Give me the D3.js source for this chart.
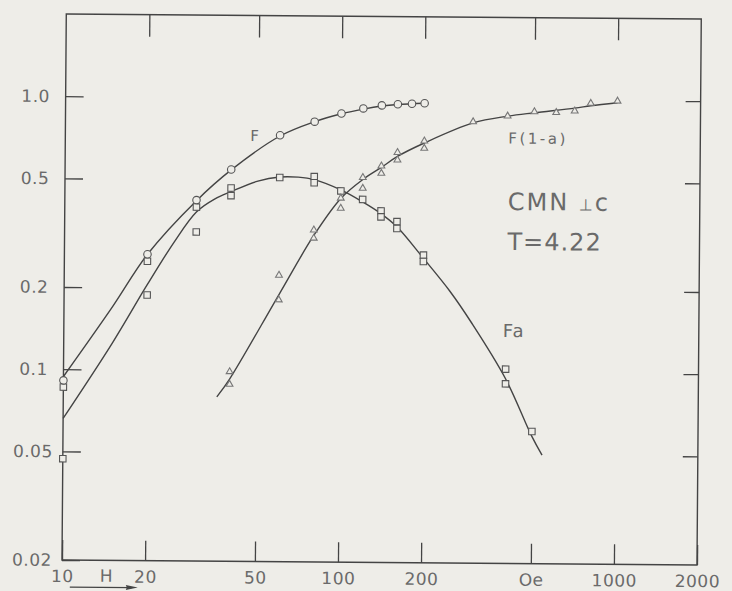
<!DOCTYPE html>
<html>
<head>
<meta charset="utf-8">
<script src="https://cdn.jsdelivr.net/npm/d3@7"></script>
<style>
  html, body { margin: 0; padding: 0; background: #eeede8; }
  svg { display: block; }
</style>
</head>
<body>
<svg id="chart" width="732" height="591"></svg>
<script>
// Measured points: field H (Oe) and the three quantities
const fField   = [10, 20, 30, 40, 60, 80, 100, 120, 140, 160, 180, 200];
const fValues  = [0.091, 0.265, 0.42, 0.545, 0.73, 0.82, 0.88, 0.92, 0.945, 0.955, 0.96, 0.965];

const faField  = [10, 10, 20, 20, 30, 30, 40, 40, 60, 80, 80, 100, 120, 140, 140, 160, 160, 200, 200, 400, 400, 500];
const faValues = [0.086, 0.047, 0.25, 0.188, 0.396, 0.321, 0.466, 0.437, 0.511, 0.516, 0.49, 0.458, 0.427, 0.388, 0.369, 0.355, 0.335, 0.268, 0.254, 0.103, 0.091, 0.061];

const f1aField  = [40, 40, 60, 60, 80, 80, 100, 100, 120, 120, 140, 140, 160, 160, 200, 200, 300, 400, 500, 600, 700, 800, 1000];
const f1aValues = [0.099, 0.089, 0.224, 0.182, 0.329, 0.307, 0.431, 0.396, 0.514, 0.469, 0.567, 0.533, 0.636, 0.597, 0.702, 0.66, 0.828, 0.871, 0.905, 0.90, 0.913, 0.975, 0.995];

// Smooth curves drawn through the points
const fCurveField   = [10, 15, 20, 30, 40, 60, 80, 100, 120, 140, 160, 200];
const fCurveValues  = [0.094, 0.17, 0.265, 0.418, 0.543, 0.725, 0.82, 0.878, 0.915, 0.94, 0.953, 0.965];

const faCurveField  = [10, 15, 20, 25, 30, 35, 40, 50, 60, 70, 80, 100, 120, 140, 160, 200, 250, 300, 400, 500, 545];
const faCurveValues = [0.066, 0.125, 0.205, 0.295, 0.38, 0.425, 0.452, 0.495, 0.513, 0.513, 0.503, 0.462, 0.418, 0.379, 0.34, 0.261, 0.198, 0.152, 0.095, 0.0585, 0.050];

const f1aCurveField  = [36, 40, 60, 80, 100, 120, 140, 160, 200, 300, 400, 500, 700, 800, 1000];
const f1aCurveValues = [0.080, 0.093, 0.19, 0.314, 0.43, 0.505, 0.56, 0.615, 0.69, 0.82, 0.87, 0.897, 0.935, 0.955, 0.982];

// Axis ticks
const xTicks      = [10, 20, 50, 100, 200, 500, 1000, 2000];
const xTickLabels = ["10", "20", "50", "100", "200", "Oe", "1000", "2000"];
const yTicks      = [1, 0.5, 0.2, 0.1, 0.05, 0.02];
const yTickLabels = ["1.0", "0.5", "0.2", "0.1", "0.05", "0.02"];

const INK = "#444444";
const TEXT = "#6a6a6a";
const PAPER = "#eeede8";
const FONT = "'DejaVu Sans', 'Liberation Sans', sans-serif";

const svg = d3.select("#chart");
svg.append("rect").attr("width", 732).attr("height", 591).attr("fill", PAPER);

const plotLeft = 62, plotRight = 697, plotTop = 14, plotBottom = 560;
const x = d3.scaleLog().domain([10, 2000]).range([plotLeft, plotRight]);
const y = d3.scaleLog().domain([0.02, 2]).range([plotBottom, plotTop]);

// the whole sheet sits very slightly turned
const g = svg.append("g").attr("transform", `rotate(0.45 ${plotLeft} ${plotBottom})`);

// frame
g.append("rect")
  .attr("x", plotLeft).attr("y", plotTop)
  .attr("width", plotRight - plotLeft).attr("height", plotBottom - plotTop)
  .attr("fill", "none").attr("stroke", INK).attr("stroke-width", 1.4);

function styleAxis(sel) {
  sel.select(".domain").remove();
  sel.selectAll(".tick line").attr("stroke", INK).attr("stroke-width", 1.3);
  sel.attr("font-family", FONT).attr("font-size", 17);
  sel.selectAll(".tick text").attr("fill", TEXT).attr("letter-spacing", 0.5);
}

// bottom axis with labels, ticks pointing inward
g.append("g")
  .attr("transform", `translate(0,${plotBottom})`)
  .call(d3.axisBottom(x).tickValues(xTicks)
    .tickFormat((d, i) => xTickLabels[i])
    .tickSize(-20).tickSizeOuter(0).tickPadding(10))
  .call(styleAxis);

// top axis, ticks only
g.append("g")
  .attr("transform", `translate(0,${plotTop})`)
  .call(d3.axisTop(x).tickValues(xTicks.slice(1, -1)).tickFormat(() => "")
    .tickSize(-22).tickSizeOuter(0))
  .call(styleAxis);

// left axis with labels
g.append("g")
  .attr("transform", `translate(${plotLeft},0)`)
  .call(d3.axisLeft(y).tickValues(yTicks)
    .tickFormat((d, i) => yTickLabels[i])
    .tickSize(-18).tickSizeOuter(0))
  .call(styleAxis)
  .call(s => s.selectAll(".tick text").attr("x", -30).attr("text-anchor", "middle"));

// right axis, ticks only
g.append("g")
  .attr("transform", `translate(${plotRight},0)`)
  .call(d3.axisRight(y).tickValues(yTicks.slice(0, -1)).tickFormat(() => "")
    .tickSize(-15).tickSizeOuter(0))
  .call(styleAxis);

// curves
const line = d3.line().x(d => x(d[0])).y(d => y(d[1])).curve(d3.curveCatmullRom.alpha(0.5));
[[fCurveField, fCurveValues], [faCurveField, faCurveValues], [f1aCurveField, f1aCurveValues]]
  .forEach(([h, v]) => {
    g.append("path")
      .datum(d3.zip(h, v))
      .attr("d", line)
      .attr("fill", "none")
      .attr("stroke", INK)
      .attr("stroke-width", 1.4);
  });

// point markers
function markers(h, v, type, size, stroke) {
  g.append("g").selectAll("path")
    .data(d3.zip(h, v))
    .join("path")
    .attr("transform", d => `translate(${x(d[0])},${y(d[1])})`)
    .attr("d", d3.symbol().type(type).size(size))
    .attr("fill", PAPER)
    .attr("stroke", stroke)
    .attr("stroke-width", 1.1);
}
markers(faField, faValues, d3.symbolSquare, 42, "#555");
markers(f1aField, f1aValues, d3.symbolTriangle, 20, "#777");
markers(fField, fValues, d3.symbolCircle, 44, "#555");

// annotations
const ann = g.append("g").attr("font-family", FONT).attr("fill", TEXT);
ann.append("text").attr("x", 247).attr("y", 139.5).attr("font-size", 15).text("F");
ann.append("text").attr("x", 505).attr("y", 140).attr("font-size", 15)
  .attr("letter-spacing", 2.5).text("F(1-a)");
const cmn = ann.append("text").attr("x", 505).attr("y", 206.5).attr("font-size", 24)
  .attr("letter-spacing", 2);
cmn.append("tspan").text("CMN ");
cmn.append("tspan").attr("font-size", 16).text("⊥");
cmn.append("tspan").text("c");
ann.append("text").attr("x", 505).attr("y", 246.5).attr("font-size", 24)
  .attr("letter-spacing", 1).text("T=4.22");
ann.append("text").attr("x", 501).attr("y", 333.5).attr("font-size", 18)
  .attr("letter-spacing", 1).text("Fa");
ann.append("text").attr("x", 100).attr("y", 581.5).attr("font-size", 17).text("H");

// field arrow under the axis
g.append("line")
  .attr("x1", 70).attr("y1", 587).attr("x2", 132).attr("y2", 587)
  .attr("stroke", INK).attr("stroke-width", 1.3);
g.append("path")
  .attr("d", "M138,587 L126,584.5 L127,587 L126,589.5 Z")
  .attr("fill", INK);
</script>
</body>
</html>
